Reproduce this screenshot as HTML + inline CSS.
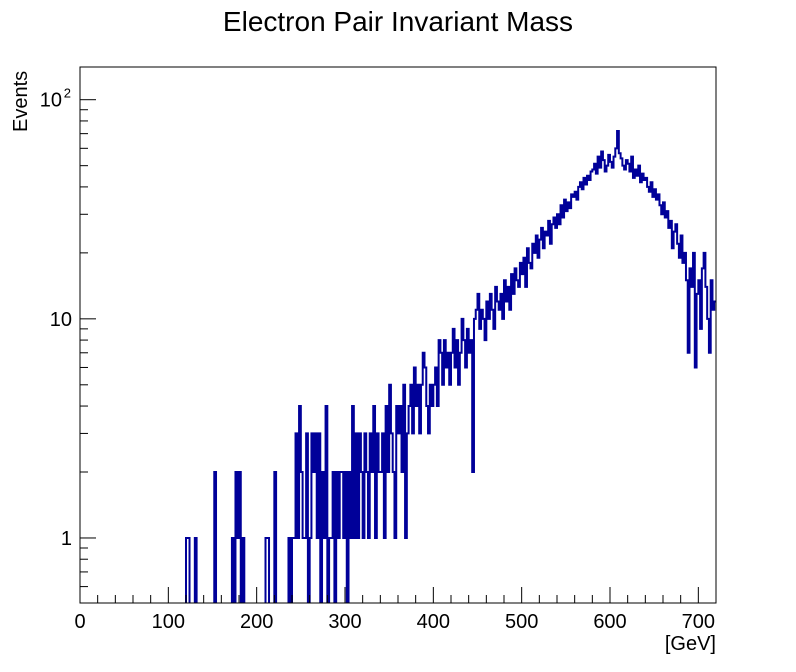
<!DOCTYPE html>
<html><head><meta charset="utf-8"><style>
html,body{margin:0;padding:0;background:#fff;}
svg{display:block;font-family:"Liberation Sans",sans-serif;}
</style></head><body>
<svg id="chart" width="796" height="672" viewBox="0 0 796 672" xmlns="http://www.w3.org/2000/svg">
<defs><clipPath id="fc"><rect x="80" y="67" width="636" height="536"/></clipPath></defs>
<rect x="0" y="0" width="796" height="672" fill="#fff"/>
<text x="398" y="31" text-anchor="middle" font-size="28">Electron Pair Invariant Mass</text>
<g id="plot" clip-path="url(#fc)"></g>
<rect x="80" y="67" width="636" height="536" fill="none" stroke="#000" stroke-width="1"/>
<g id="axes"></g>
<text x="716" y="650" text-anchor="end" font-size="20">[GeV]</text>
<text transform="translate(27,132) rotate(-90)" text-anchor="start" font-size="20">Events</text>
</svg>
<script>
const binStart = 120;
const binWidth = 2;
const counts = [
1,1,0,0,0,1,0,0,0,0,
0,0,0,0,0,0,2,0,0,0,
0,0,0,0,0,0,1,0,2,1,
2,0,1,0,0,0,0,0,0,0,
0,0,0,0,0,1,1,0,0,0,
2,0,0,0,0,0,0,0,1,0,
1,1,3,1,4,2,1,1,3,0,
1,3,2,3,1,3,0,2,1,4,
0,1,1,2,0,2,1,2,2,1,
2,0,2,1,4,1,3,1,3,2,
1,3,2,1,3,2,4,1,3,2,
2,3,1,4,2,5,3,2,1,4,
3,4,2,5,1,3,4,5,3,6,
4,5,3,5,7,6,4,3,5,4,
5,6,4,8,7,5,8,6,7,5,
7,9,6,8,5,7,10,8,6,9,
7,8,2,10,11,13,9,11,10,8,
12,10,13,11,9,14,12,11,13,10,
15,12,14,11,16,13,17,15,14,18,
16,19,14,21,18,17,22,20,24,19,
23,26,21,25,24,28,22,27,29,26,
30,27,33,29,35,31,34,32,37,36,
38,35,40,42,39,44,41,45,43,47,
48,51,46,55,49,58,53,47,50,56,
52,49,55,60,72,57,54,50,48,53,
51,47,55,44,48,45,50,42,46,43,
44,40,38,42,36,39,35,37,33,30,
34,29,31,26,28,21,25,27,22,19,
24,18,20,15,7,17,14,20,6,13,
15,9,17,20,14,10,7,15,11,12
];
const xTicks = [0,100,200,300,400,500,600,700];
const yTicks = [1,10,100];

const X0=80, X1=716, Y0=603, Y1=67, XMIN=0, XMAX=720, YMIN=0.505, YMAX=141;
const NS="http://www.w3.org/2000/svg";
function xs(v){return X0+(v-XMIN)/(XMAX-XMIN)*(X1-X0);}
function ys(v){ if(v<=0) return Y0+5; const t=(Math.log10(v)-Math.log10(YMIN))/(Math.log10(YMAX)-Math.log10(YMIN)); return Math.max(Y1, Y0-t*(Y0-Y1));}
function mk(tag,attrs,parent){const e=document.createElementNS(NS,tag);for(const k in attrs)e.setAttribute(k,attrs[k]);parent.appendChild(e);return e;}

const plot=document.getElementById('plot');
let d='M'+xs(binStart)+' '+(Y0+5);
for(let i=0;i<counts.length;i++){
  const a=xs(binStart+i*binWidth), b=xs(binStart+(i+1)*binWidth), y=ys(counts[i]);
  d+=' L'+a.toFixed(2)+' '+y.toFixed(2)+' L'+b.toFixed(2)+' '+y.toFixed(2);
}
const hist=mk('path',{d:d,fill:'none',stroke:'#000099','stroke-width':'2'},plot);



const axes=document.getElementById('axes');
for(let v=0; v<=XMAX; v+=20){
  const major = v%100===0;
  const t=mk('line',{x1:xs(v),x2:xs(v),y1:Y0,y2:Y0-(major?16:8),stroke:'#000','stroke-width':'1'},axes);
  
  
}
xTicks.forEach(v=>{
  const t=mk('text',{x:xs(v),y:Y0+25,'text-anchor':'middle','font-size':'20'},axes);
  t.textContent=String(v);
  
  
});
for(let dec=0.1; dec<=100; dec*=10){
  for(let m=1;m<=9;m++){
    const v=dec*m; if(v<YMIN||v>YMAX) continue;
    const major=(m===1);
    const t=mk('line',{x1:X0,x2:X0+(major?16:8),y1:ys(v),y2:ys(v),stroke:'#000','stroke-width':'1'},axes);
    
    
  }
}
yTicks.forEach(v=>{
  const t=mk('text',{x:X0-8,y:ys(v)+7,'text-anchor':'end','font-size':'20'},axes);
  if(v===100){
    t.setAttribute('x', X0-18);
    t.textContent='10';
    const s=mk('text',{x:X0-9,y:ys(v)-2,'text-anchor':'end','font-size':'13'},axes);
    s.textContent='2';
    
    
  } else t.textContent=String(v);
  
  
});
</script>
</body></html>
